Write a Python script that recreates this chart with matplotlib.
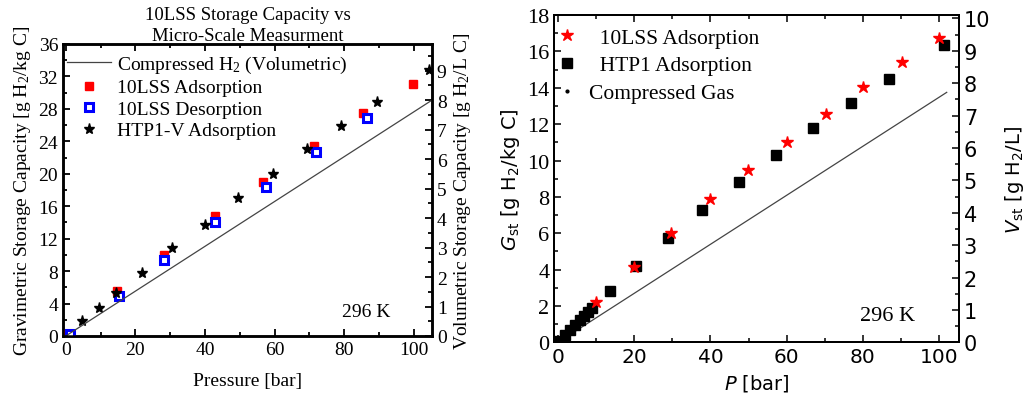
import matplotlib
matplotlib.use("Agg")
import matplotlib.pyplot as plt
from matplotlib.lines import Line2D
from matplotlib.ticker import MultipleLocator
from matplotlib.font_manager import FontProperties

plt.rcParams['mathtext.fontset'] = 'custom'
plt.rcParams['mathtext.rm'] = 'Liberation Serif'
plt.rcParams['mathtext.it'] = 'Liberation Serif:italic'

# left panel: 10LSS vs micro-scale (gravimetric, g H2/kg C)
lss_ads_p = [0.2, 14.8, 28.3, 42.9, 56.7, 71.3, 85.4, 99.8]
lss_ads_g = [0.2, 5.5, 10.0, 14.75, 19.0, 23.4, 27.5, 31.1]
lss_des_p = [1.2, 15.2, 28.3, 43.0, 57.4, 71.9, 86.4]
lss_des_g = [0.25, 4.9, 9.4, 14.0, 18.4, 22.7, 26.9]
htp1v_p = [4.6, 9.5, 14.4, 21.8, 30.6, 39.9, 49.4, 59.4, 69.4, 79.2, 89.3, 104.3]
htp1v_g = [1.8, 3.5, 5.3, 7.8, 10.8, 13.7, 17.0, 20.0, 23.0, 25.9, 28.8, 32.8]
comp_p = [0, 105]
comp_v = [0, 7.98]  # g H2/L

# right panel: 10LSS vs HTP1
lss_p = [10.0, 19.8, 29.6, 39.9, 49.9, 60.0, 70.2, 80.1, 90.3, 100.0]
lss_g = [2.2, 4.13, 6.0, 7.88, 9.48, 11.03, 12.57, 14.03, 15.43, 16.74]
htp1_p = [0, 1.9, 3.2, 4.5, 5.7, 6.7, 7.8, 8.9, 13.6, 20.5, 28.8, 37.9,
          47.4, 57.1, 67.0, 76.9, 86.8, 101.3]
htp1_g = [0.05, 0.4, 0.69, 0.97, 1.24, 1.46, 1.65, 1.87, 2.84, 4.18, 5.74,
          7.28, 8.83, 10.32, 11.77, 13.16, 14.48, 16.35]
gas_p = [0, 102]
gas_g = [0, 13.75]

SERIF = 'Liberation Serif'
SANS = 'DejaVu Sans'

fig = plt.figure(figsize=(10.27, 4.02), dpi=100)

# ---------- left panel ----------
ax1 = fig.add_axes([0.0613, 0.1617, 0.3593, 0.7264])
ax1b = ax1.twinx()
ax1b.plot(comp_p, comp_v, color='#444444', lw=0.9)
ax1.plot(lss_ads_p, lss_ads_g, 's', color='red', ms=6, zorder=3)
ax1.plot(lss_des_p, lss_des_g, 's', mfc='white', mec='blue', mew=2.2, ms=6, zorder=4)
ax1.plot(htp1v_p, htp1v_g, '*', color='black', ms=8, zorder=5)
ax1.set_xlim(-0.8, 105.2)
ax1.set_ylim(0, 36)
ax1b.set_ylim(0, 9.9)
ax1.xaxis.set_major_locator(MultipleLocator(20))
ax1.xaxis.set_minor_locator(MultipleLocator(10))
ax1.yaxis.set_major_locator(MultipleLocator(4))
ax1.yaxis.set_minor_locator(MultipleLocator(2))
ax1b.yaxis.set_major_locator(MultipleLocator(1))
ax1b.yaxis.set_minor_locator(MultipleLocator(0.5))
for a in (ax1, ax1b):
    a.tick_params(which='both', direction='in', top=True, width=1.3, labelsize=14)
    a.tick_params(which='major', length=5)
    a.tick_params(which='minor', length=3)
    for s in a.spines.values():
        s.set_linewidth(1.8)
    for lab in a.get_xticklabels() + a.get_yticklabels():
        lab.set_fontfamily(SERIF)
ax1b.tick_params(which='both', top=False)
ax1.set_xlabel('Pressure [bar]', fontfamily=SERIF, fontsize=14, labelpad=10)
ax1.set_ylabel('Gravimetric Storage Capacity [g H$_2$/kg C]', fontfamily=SERIF,
               fontsize=14, labelpad=4)
ax1b.set_ylabel('Volumetric Storage Capacity [g H$_2$/L C]', fontfamily=SERIF,
                fontsize=14, labelpad=4)
ax1.set_title('10LSS Storage Capacity vs\nMicro-Scale Measurment', fontfamily=SERIF,
              fontsize=13.5, linespacing=1.3, pad=3)
ax1.text(86.4, 3.0, '296 K', fontfamily=SERIF, fontsize=14, ha='center', va='center')
h1 = [Line2D([], [], color='#444444', lw=0.9),
      Line2D([], [], ls='', marker='s', color='red', ms=6),
      Line2D([], [], ls='', marker='s', mfc='white', mec='blue', mew=2.2, ms=6),
      Line2D([], [], ls='', marker='*', color='black', ms=8)]
ax1.legend(h1, ['Compressed H$_2$ (Volumetric)', '10LSS Adsorption',
                '10LSS Desorption', 'HTP1-V Adsorption'],
           loc='upper left', frameon=False, prop=FontProperties(family=SERIF, size=14),
           handlelength=2.3, handletextpad=0.3, labelspacing=0.2,
           borderaxespad=0.0, borderpad=0.1, bbox_to_anchor=(0.005, 0.973))

# ---------- right panel ----------
ax2 = fig.add_axes([0.5397, 0.146, 0.394, 0.814])
ax2b = ax2.twinx()
ax2.plot(gas_p, gas_g, color='#444444', lw=0.9)
ax2.plot(htp1_p, htp1_g, 's', color='black', ms=6.5, zorder=3)
ax2.plot(lss_p, lss_g, '*', color='red', ms=9, zorder=4)
ax2.set_xlim(-1, 105.2)
ax2.set_ylim(0, 18)
ax2b.set_ylim(0, 10.1)
ax2.xaxis.set_major_locator(MultipleLocator(20))
ax2.xaxis.set_minor_locator(MultipleLocator(10))
ax2.yaxis.set_major_locator(MultipleLocator(2))
ax2.yaxis.set_minor_locator(MultipleLocator(1))
ax2b.yaxis.set_major_locator(MultipleLocator(1))
ax2b.yaxis.set_minor_locator(MultipleLocator(0.5))
for a in (ax2, ax2b):
    a.tick_params(which='both', direction='in', top=True, width=1.1)
    a.tick_params(which='major', length=5)
    a.tick_params(which='minor', length=3)
    for s in a.spines.values():
        s.set_linewidth(1.4)
ax2b.tick_params(which='both', top=False)
ax2.tick_params(axis='y', labelsize=16)
for lab in ax2.get_yticklabels():
    lab.set_fontfamily(SERIF)
ax2.tick_params(axis='x', labelsize=14.5)
ax2b.tick_params(axis='y', labelsize=15)
ax2.set_xlabel('$P$ [bar]', fontfamily=SANS, fontsize=14, math_fontfamily='dejavusans',
               labelpad=4)
ax2.set_ylabel('$G_{\\mathrm{st}}$ [g H$_2$/kg C]', fontfamily=SANS, fontsize=14,
               math_fontfamily='dejavusans', labelpad=4)
ax2b.set_ylabel('$V_{\\mathrm{st}}$ [g H$_2$/L]', fontfamily=SANS, fontsize=14,
                math_fontfamily='dejavusans', labelpad=9)
ax2.text(86.5, 1.45, '296 K', fontfamily=SERIF, fontsize=16, ha='center', va='center')
h2 = [Line2D([], [], ls='', marker='*', color='red', ms=9),
      Line2D([], [], ls='', marker='s', color='black', ms=6.5),
      Line2D([], [], ls='', marker='.', color='black', ms=4)]
ax2.legend(h2, ['  10LSS Adsorption', '  HTP1 Adsorption', 'Compressed Gas'],
           loc='upper left', frameon=False, prop=FontProperties(family=SERIF, size=15.5),
           handlelength=0.8, handletextpad=0.6, labelspacing=0.36,
           borderaxespad=0.0, borderpad=0.2, bbox_to_anchor=(0.0, 0.975))

fig.savefig('out.png', dpi=100)
